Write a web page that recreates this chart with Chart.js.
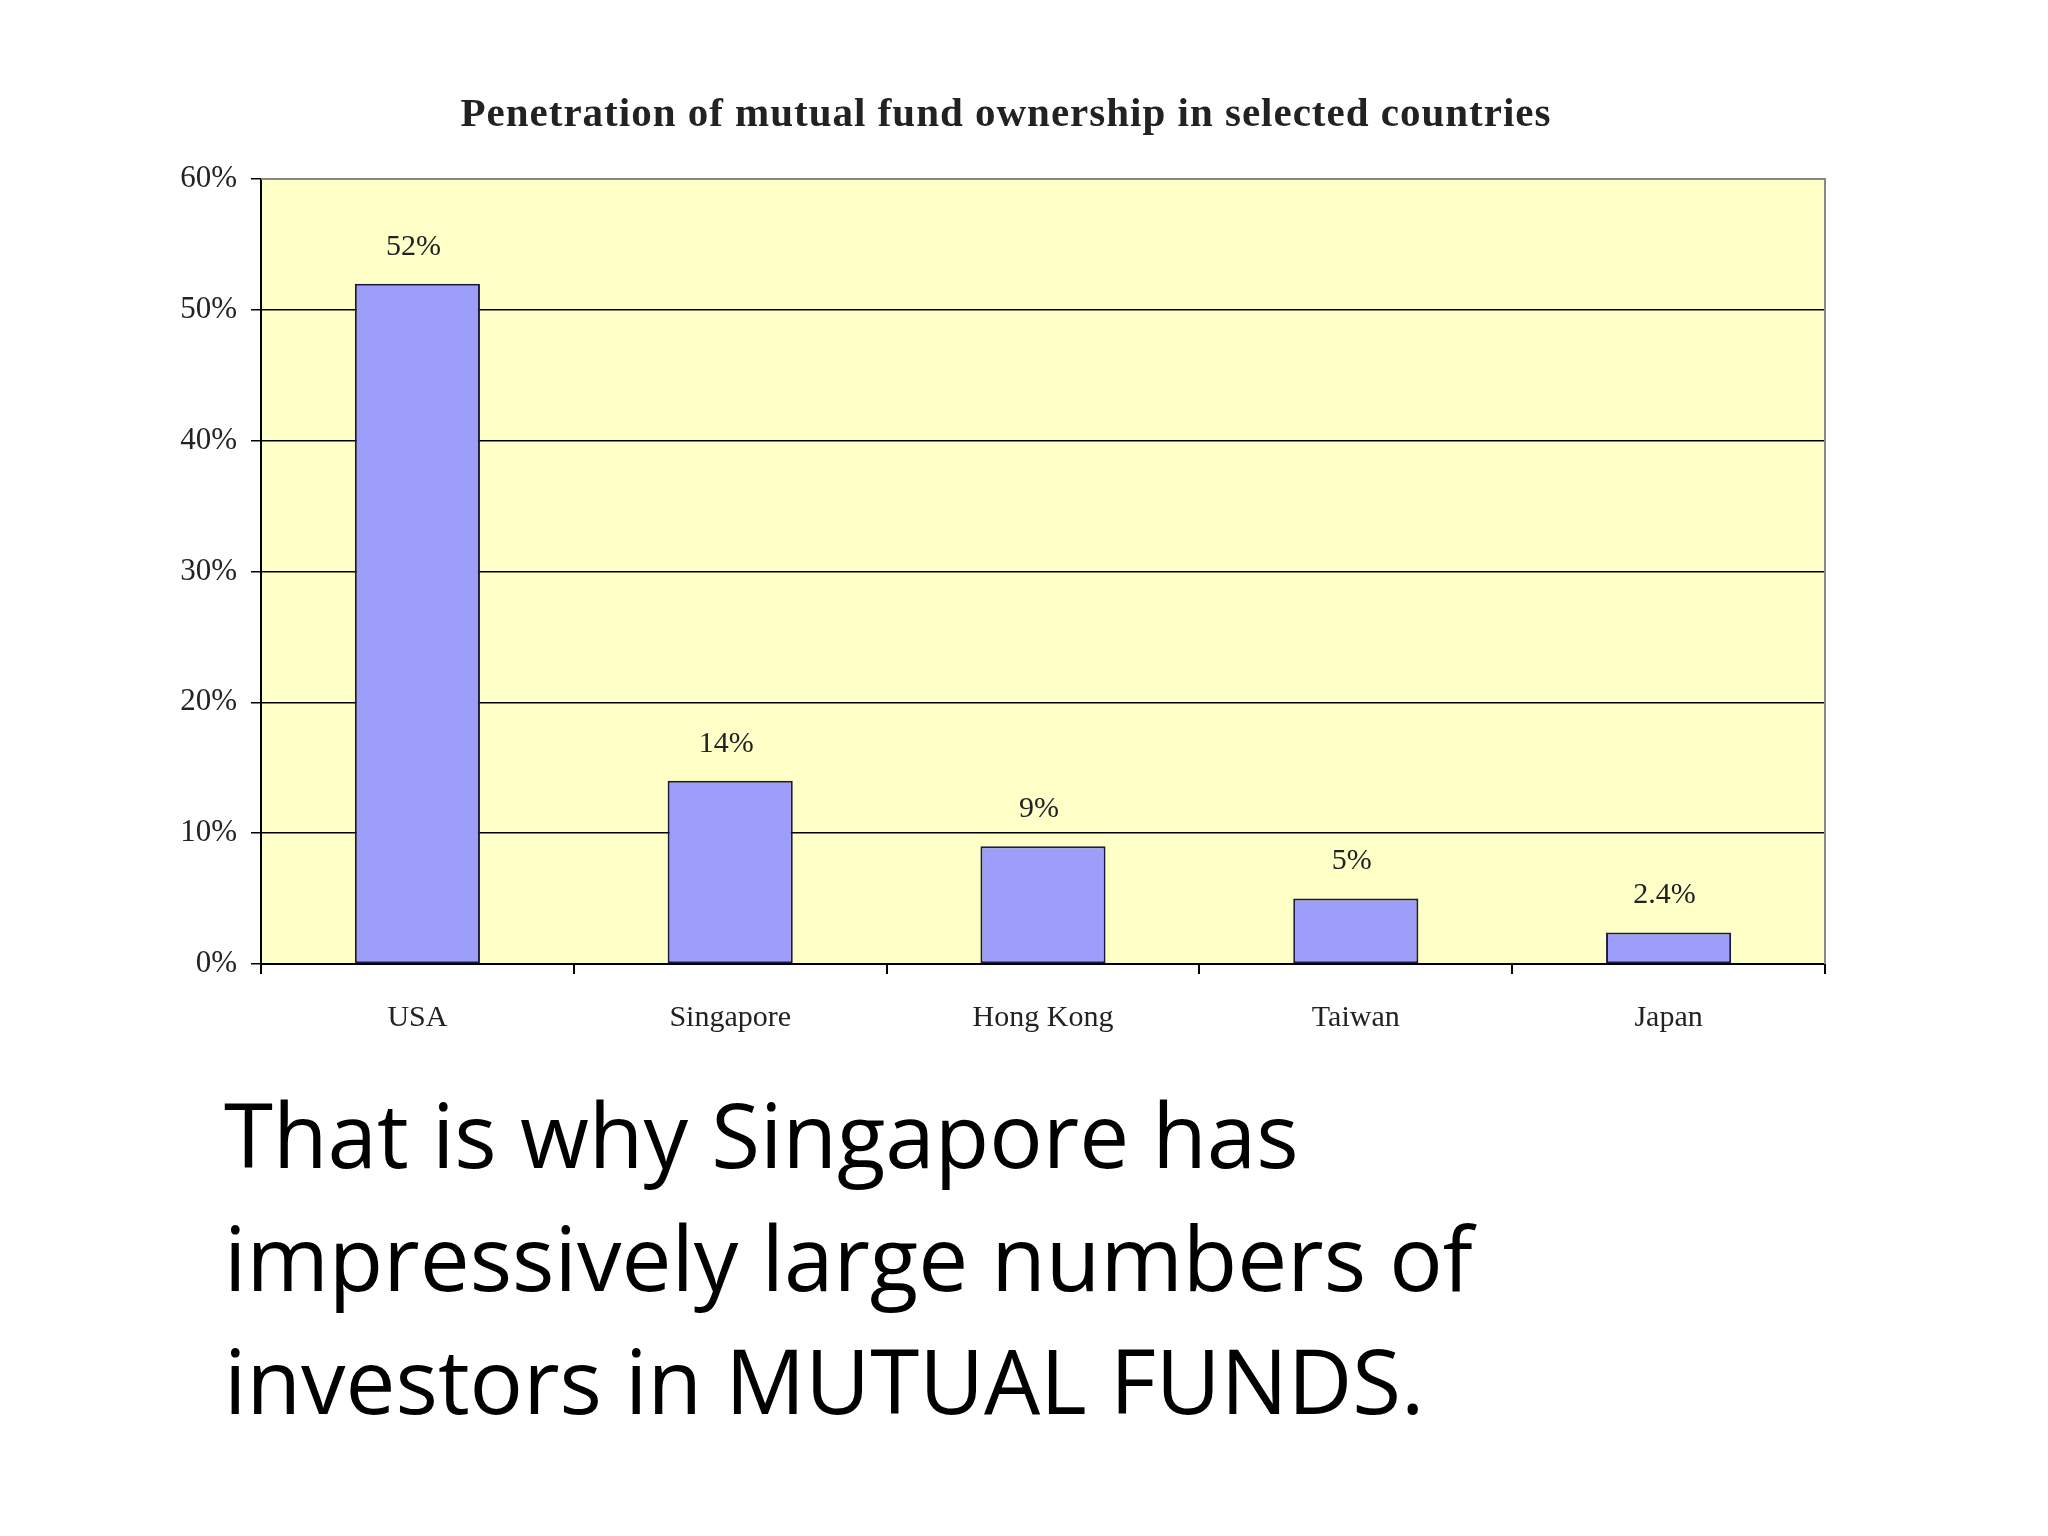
<!DOCTYPE html>
<html>
<head>
<meta charset="utf-8">
<script src="https://cdn.jsdelivr.net/npm/chart.js@4"></script>
<style>
  body { margin: 0; background: #fff; }
  #wrap { position: relative; width: 2048px; height: 1536px; }
  #note { position: absolute; left: 224px; top: 1072px; font-family: 'Open Sans', sans-serif;
    font-size: 89px; line-height: 123px; color: #000; margin: 0; }
</style>
</head>
<body>
<div id="wrap">
  <canvas id="c" width="2048" height="1536"></canvas>
  <p id="note">That is why Singapore has<br>impressively large numbers of<br>investors in MUTUAL FUNDS.</p>
</div>
<script>
const countries = ['USA', 'Singapore', 'Hong Kong', 'Taiwan', 'Japan']
const ownership = [52, 14, 9, 5, 2.4]
const valueLabels = ['52%', '14%', '9%', '5%', '2.4%']
const title = 'Penetration of mutual fund ownership in selected countries'

const decor = {
  id: 'decor',
  beforeDraw(chart) {
    const {ctx, chartArea: a} = chart
    ctx.save()
    ctx.fillStyle = '#FFFFC8'
    ctx.fillRect(a.left, a.top, a.right - a.left, a.bottom - a.top)
    ctx.restore()
  },
  afterDraw(chart) {
    const {ctx, chartArea: a} = chart
    ctx.save()
    ctx.strokeStyle = '#888'
    ctx.lineWidth = 2
    ctx.beginPath()
    ctx.moveTo(a.left, a.top); ctx.lineTo(a.right, a.top); ctx.lineTo(a.right, a.bottom)
    ctx.stroke()
    ctx.fillStyle = '#222'
    ctx.textAlign = 'center'
    ctx.font = 'bold 41px "Liberation Serif", serif'
    ctx.letterSpacing = '1px'
    ctx.fillText(title, 1006, 126)
    ctx.letterSpacing = '0px'
    ctx.font = '30px "Liberation Serif", serif'
    ctx.textBaseline = 'bottom'
    chart.getDatasetMeta(0).data.forEach((bar, i) => {
      ctx.fillText(valueLabels[i], bar.x - 4, bar.y - 22)
    })
    ctx.restore()
  }
}

new Chart(document.getElementById('c'), {
  type: 'bar',
  data: {
    labels: countries,
    datasets: [{
      data: ownership,
      backgroundColor: '#9D9DFA',
      borderColor: '#1a1a40',
      borderWidth: 2,
      borderSkipped: false,
      barPercentage: 0.4,
      categoryPercentage: 1
    }]
  },
  options: {
    responsive: false,
    animation: false,
    layout: { padding: { top: 179, right: 223, left: 0, bottom: 0 } },
    plugins: { legend: { display: false }, tooltip: { enabled: false } },
    scales: {
      x: {
        afterFit(s) { s.height = 572 },
        offset: true,
        grid: { offset: true, drawOnChartArea: false, tickLength: 10, color: '#000', lineWidth: 2 },
        border: { color: '#000', width: 2 },
        ticks: { color: '#222', padding: 26, font: { family: '"Liberation Serif", serif', size: 30 } }
      },
      y: {
        min: 0, max: 60,
        afterFit(s) { s.width = 261 },
        grid: { color: '#000', lineWidth: 1.5, tickLength: 10 },
        border: { color: '#000', width: 2 },
        ticks: { stepSize: 10, color: '#222', padding: 14, callback: v => v + '%',
          font: { family: '"Liberation Serif", serif', size: 31 } }
      }
    }
  },
  plugins: [decor]
})
</script>
</body>
</html>
